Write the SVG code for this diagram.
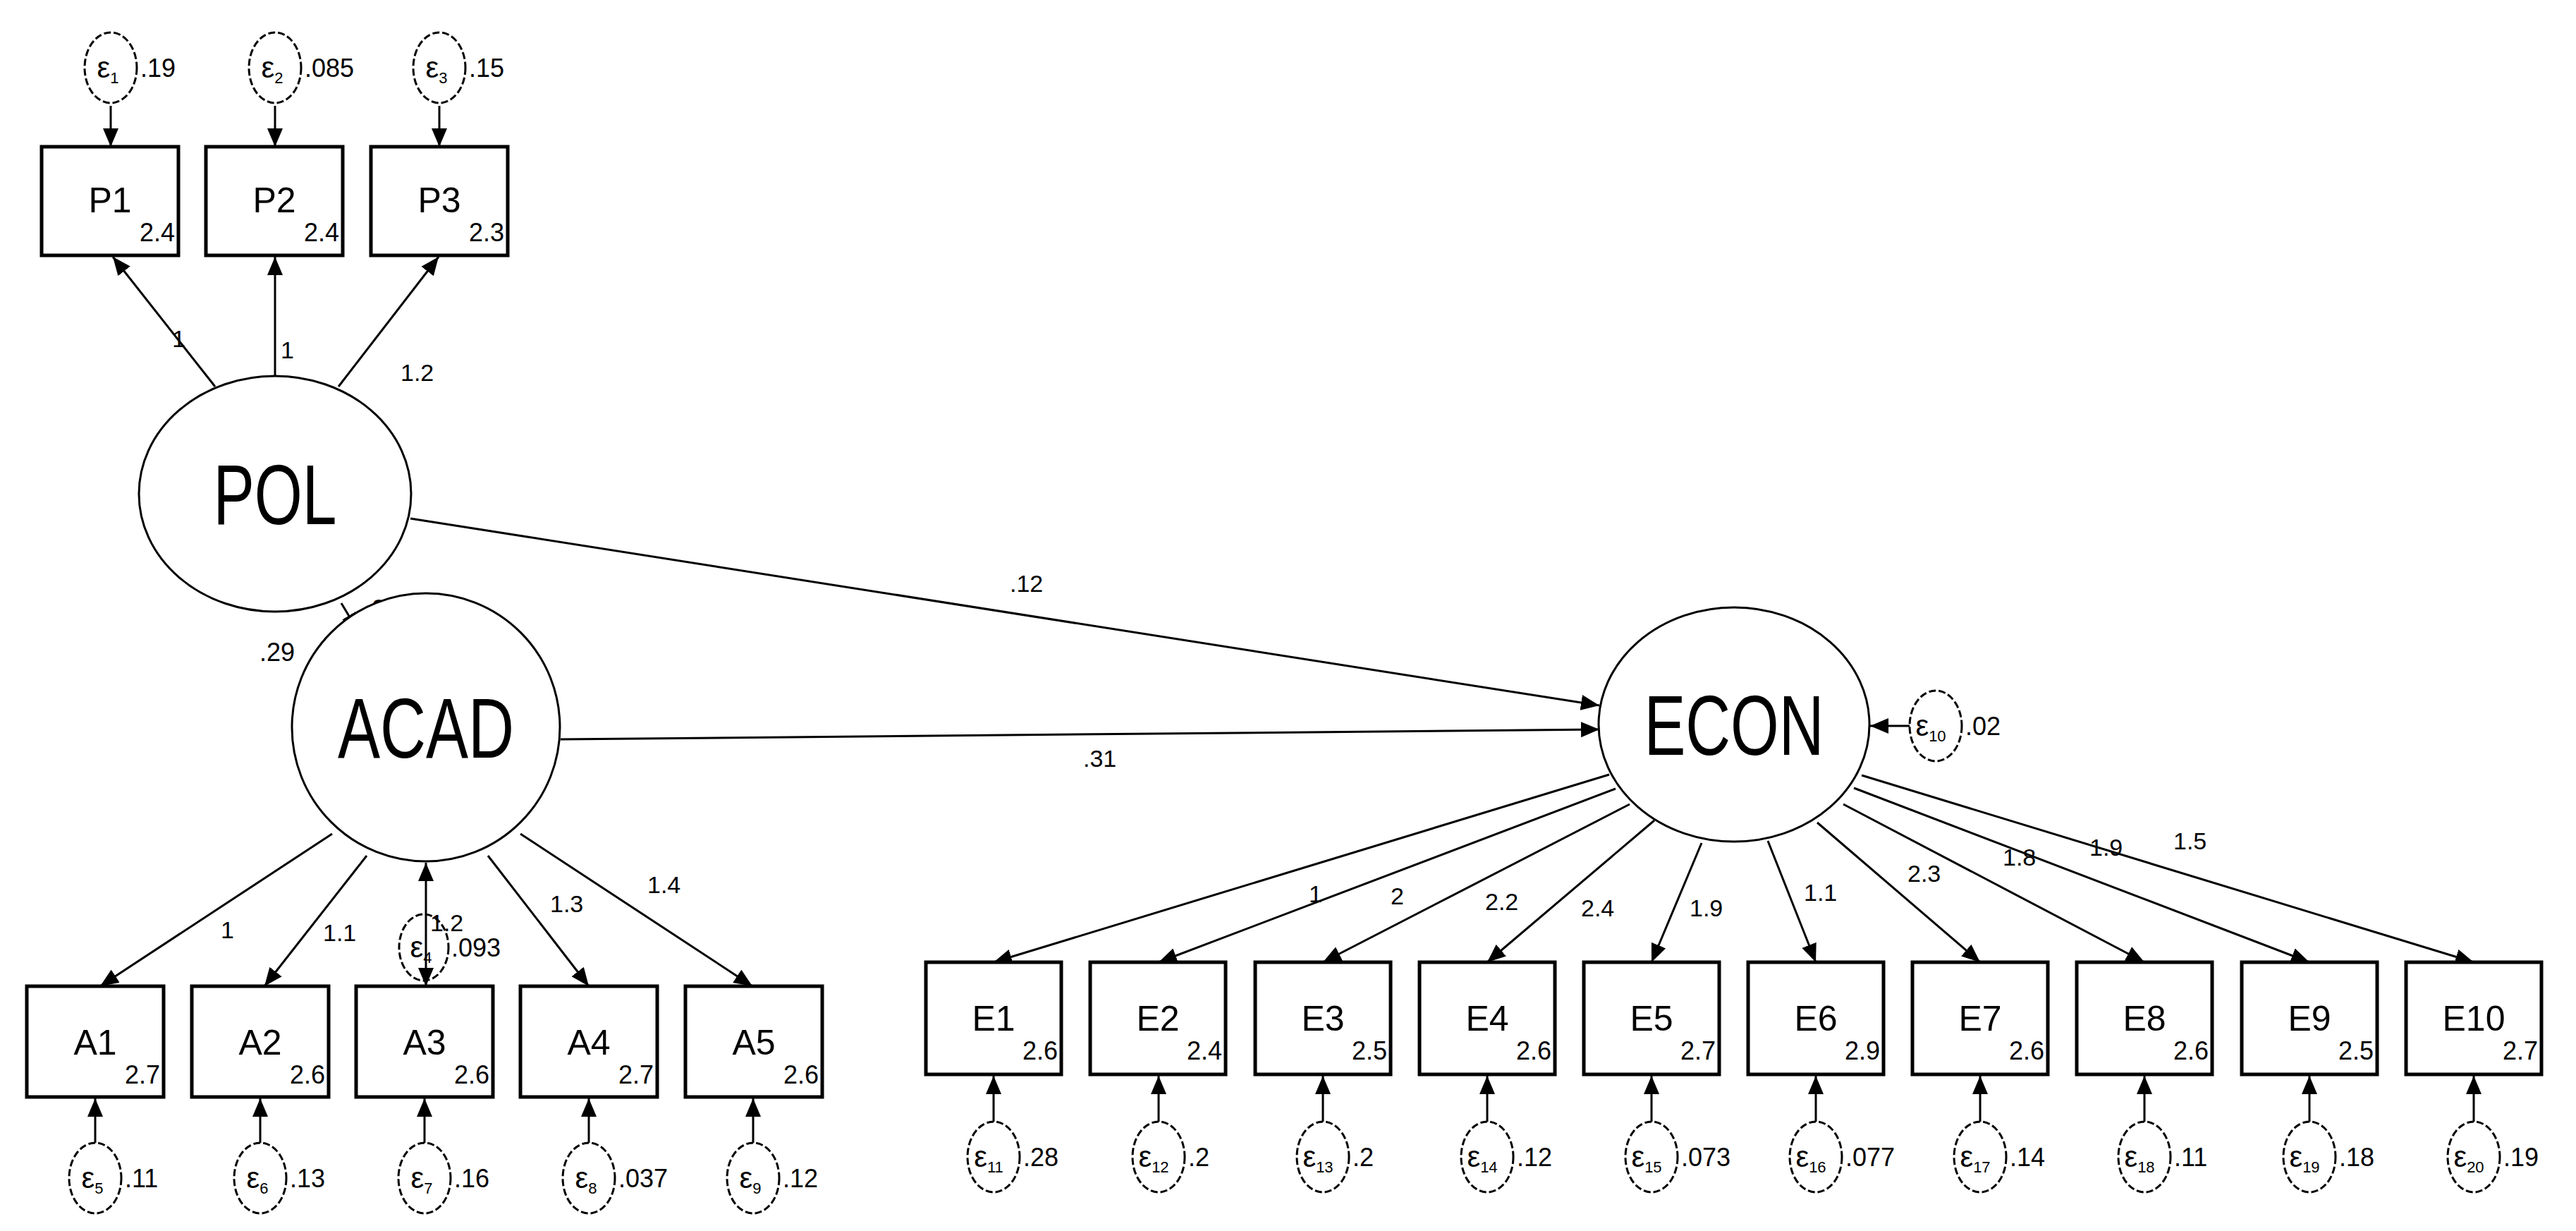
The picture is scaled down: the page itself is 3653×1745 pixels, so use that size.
<svg xmlns="http://www.w3.org/2000/svg" width="3653" height="1745" viewBox="0 0 3653 1745">
<style>
text{font-family:"Liberation Sans",Arial,sans-serif;fill:#000}
.box{fill:#fff;stroke:#000;stroke-width:5}
.lat{fill:#fff;stroke:#000;stroke-width:3}
.err{fill:#fff;stroke:#000;stroke-width:3;stroke-dasharray:10 4}
.big{font-size:120px;text-anchor:middle}
.nm{font-size:50px;text-anchor:middle}
.val{font-size:36px;text-anchor:end}
.el{font-size:34px}
.eps{font-size:42px;text-anchor:middle}
.sub{font-size:22px}
.ev{font-size:36px}
.c line,.c path{stroke:#000;stroke-width:3;fill:none;marker-end:url(#ah)}
</style>
<defs>
<marker id="ah" markerUnits="userSpaceOnUse" markerWidth="26" markerHeight="22" refX="26" refY="11" orient="auto"><path d="M0,0 L26,11 L0,22 Z" fill="#000"/></marker>
<marker id="as" markerUnits="userSpaceOnUse" markerWidth="26" markerHeight="22" refX="0" refY="11" orient="auto"><path d="M26,0 L0,11 L26,22 Z" fill="#000"/></marker>
</defs>
<rect width="3653" height="1745" fill="#fff"/>

<g id="connectors" class="c">
<line x1="157" y1="150" x2="157" y2="208"/>
<line x1="390" y1="150" x2="390" y2="208"/>
<line x1="623" y1="150" x2="623" y2="208"/>
<line x1="305" y1="548" x2="160" y2="364"/>
<line x1="390" y1="533" x2="390" y2="364"/>
<line x1="480" y1="548" x2="622" y2="364"/>
<line x1="484" y1="855" x2="508" y2="895"/>
<line x1="582" y1="735" x2="2268" y2="1000"/>
<line x1="795" y1="1048" x2="2268" y2="1034"/>
<line x1="471" y1="1182" x2="142" y2="1398"/>
<line x1="520" y1="1213" x2="375" y2="1398"/>
<line x1="604" y1="1223" x2="604" y2="1398" style="marker-start:url(#as)"/>
<line x1="692" y1="1213" x2="835" y2="1398"/>
<line x1="738" y1="1182" x2="1067" y2="1398"/>
<line x1="135" y1="1620" x2="135" y2="1557"/>
<line x1="369" y1="1620" x2="369" y2="1557"/>
<line x1="602" y1="1620" x2="602" y2="1557"/>
<line x1="835" y1="1620" x2="835" y2="1557"/>
<line x1="1068" y1="1620" x2="1068" y2="1557"/>
<line x1="2708" y1="1029" x2="2652" y2="1029"/>
<line x1="2282" y1="1098" x2="1409" y2="1364"/>
<line x1="2291" y1="1118" x2="1643" y2="1364"/>
<line x1="2311" y1="1140" x2="1876" y2="1364"/>
<line x1="2346" y1="1163" x2="2109" y2="1364"/>
<line x1="2413" y1="1195" x2="2342" y2="1364"/>
<line x1="2507" y1="1192" x2="2575" y2="1364"/>
<line x1="2577" y1="1166" x2="2808" y2="1364"/>
<line x1="2614" y1="1140" x2="3041" y2="1364"/>
<line x1="2629" y1="1117" x2="3275" y2="1364"/>
<line x1="2640" y1="1099" x2="3508" y2="1364"/>
<line x1="1409" y1="1590" x2="1409" y2="1525"/>
<line x1="1643" y1="1590" x2="1643" y2="1525"/>
<line x1="1876" y1="1590" x2="1876" y2="1525"/>
<line x1="2109" y1="1590" x2="2109" y2="1525"/>
<line x1="2342" y1="1590" x2="2342" y2="1525"/>
<line x1="2575" y1="1590" x2="2575" y2="1525"/>
<line x1="2808" y1="1590" x2="2808" y2="1525"/>
<line x1="3041" y1="1590" x2="3041" y2="1525"/>
<line x1="3275" y1="1590" x2="3275" y2="1525"/>
<line x1="3508" y1="1590" x2="3508" y2="1525"/>
</g>
<g id="edge-labels" class="el">
<text x="244" y="492">1</text>
<text x="398" y="508">1</text>
<text x="568" y="540">1.2</text>
<text x="518" y="873">.27</text>
<text x="1432" y="839">.12</text>
<text x="1536" y="1087">.31</text>
<text x="313" y="1330">1</text>
<text x="458" y="1334">1.1</text>
<text x="610" y="1320">1.2</text>
<text x="780" y="1293">1.3</text>
<text x="918" y="1266">1.4</text>
<text x="1856" y="1279">1</text>
<text x="1972" y="1282">2</text>
<text x="2106" y="1290">2.2</text>
<text x="2242" y="1299">2.4</text>
<text x="2396" y="1299">1.9</text>
<text x="2558" y="1277">1.1</text>
<text x="2705" y="1250">2.3</text>
<text x="2840" y="1227">1.8</text>
<text x="2963" y="1213">1.9</text>
<text x="3082" y="1204">1.5</text>
</g>

<g id="POL"><ellipse class="lat" cx="390" cy="700" rx="193" ry="167"/><text class="big" x="390" y="743" textLength="175" lengthAdjust="spacingAndGlyphs">POL</text><text class="ev" x="368" y="937">.29</text></g>
<g id="ACAD"><ellipse class="lat" cx="604" cy="1031" rx="190" ry="190"/><text class="big" x="604" y="1074" textLength="250" lengthAdjust="spacingAndGlyphs">ACAD</text></g>
<g id="ECON"><ellipse class="lat" cx="2459" cy="1027" rx="192" ry="166"/><text class="big" x="2459" y="1070" textLength="255" lengthAdjust="spacingAndGlyphs">ECON</text></g>

<g id="P1"><rect class="box" x="59" y="208" width="194" height="154"/><text class="nm" x="156" y="301">P1</text><text class="val" x="248" y="342">2.4</text></g>
<g id="P2"><rect class="box" x="292" y="208" width="194" height="154"/><text class="nm" x="389" y="301">P2</text><text class="val" x="481" y="342">2.4</text></g>
<g id="P3"><rect class="box" x="526" y="208" width="194" height="154"/><text class="nm" x="623" y="301">P3</text><text class="val" x="715" y="342">2.3</text></g>

<g id="e1"><ellipse class="err" cx="157" cy="96" rx="37" ry="50"/><text class="eps" x="153" y="110">ε<tspan class="sub" dy="8">1</tspan></text><text class="ev" x="199" y="109">.19</text></g>
<g id="e2"><ellipse class="err" cx="390" cy="96" rx="37" ry="50"/><text class="eps" x="386" y="110">ε<tspan class="sub" dy="8">2</tspan></text><text class="ev" x="432" y="109">.085</text></g>
<g id="e3"><ellipse class="err" cx="623" cy="96" rx="37" ry="50"/><text class="eps" x="619" y="110">ε<tspan class="sub" dy="8">3</tspan></text><text class="ev" x="665" y="109">.15</text></g>

<g id="A1"><rect class="box" x="38" y="1398" width="194" height="157"/><text class="nm" x="135" y="1495">A1</text><text class="val" x="227" y="1536">2.7</text></g>
<g id="A2"><rect class="box" x="272" y="1398" width="194" height="157"/><text class="nm" x="369" y="1495">A2</text><text class="val" x="461" y="1536">2.6</text></g>
<g id="A3"><rect class="box" x="505" y="1398" width="194" height="157"/><text class="nm" x="602" y="1495">A3</text><text class="val" x="694" y="1536">2.6</text></g>
<g id="A4"><rect class="box" x="738" y="1398" width="194" height="157"/><text class="nm" x="835" y="1495">A4</text><text class="val" x="927" y="1536">2.7</text></g>
<g id="A5"><rect class="box" x="972" y="1398" width="194" height="157"/><text class="nm" x="1069" y="1495">A5</text><text class="val" x="1161" y="1536">2.6</text></g>

<g id="e4"><ellipse cx="601" cy="1343" rx="35" ry="47" fill="none" stroke="#000" stroke-width="3" stroke-dasharray="10 4"/><text class="eps" x="597" y="1357">ε<tspan class="sub" dy="8">4</tspan></text><text class="ev" x="640" y="1356">.093</text></g>
<g id="e5"><ellipse class="err" cx="135" cy="1670" rx="37" ry="50"/><text class="eps" x="131" y="1684">ε<tspan class="sub" dy="8">5</tspan></text><text class="ev" x="177" y="1683">.11</text></g>
<g id="e6"><ellipse class="err" cx="369" cy="1670" rx="37" ry="50"/><text class="eps" x="365" y="1684">ε<tspan class="sub" dy="8">6</tspan></text><text class="ev" x="411" y="1683">.13</text></g>
<g id="e7"><ellipse class="err" cx="602" cy="1670" rx="37" ry="50"/><text class="eps" x="598" y="1684">ε<tspan class="sub" dy="8">7</tspan></text><text class="ev" x="644" y="1683">.16</text></g>
<g id="e8"><ellipse class="err" cx="835" cy="1670" rx="37" ry="50"/><text class="eps" x="831" y="1684">ε<tspan class="sub" dy="8">8</tspan></text><text class="ev" x="877" y="1683">.037</text></g>
<g id="e9"><ellipse class="err" cx="1068" cy="1670" rx="37" ry="50"/><text class="eps" x="1064" y="1684">ε<tspan class="sub" dy="8">9</tspan></text><text class="ev" x="1110" y="1683">.12</text></g>
<g id="e10"><ellipse class="err" cx="2745" cy="1029" rx="37" ry="50"/><text class="eps" x="2738" y="1043">ε<tspan class="sub" dy="8">10</tspan></text><text class="ev" x="2787" y="1042">.02</text></g>

<g id="E1"><rect class="box" x="1313" y="1364" width="192" height="159"/><text class="nm" x="1409" y="1461">E1</text><text class="val" x="1500" y="1502">2.6</text></g>
<g id="E2"><rect class="box" x="1546" y="1364" width="192" height="159"/><text class="nm" x="1642" y="1461">E2</text><text class="val" x="1733" y="1502">2.4</text></g>
<g id="E3"><rect class="box" x="1780" y="1364" width="192" height="159"/><text class="nm" x="1876" y="1461">E3</text><text class="val" x="1967" y="1502">2.5</text></g>
<g id="E4"><rect class="box" x="2013" y="1364" width="192" height="159"/><text class="nm" x="2109" y="1461">E4</text><text class="val" x="2200" y="1502">2.6</text></g>
<g id="E5"><rect class="box" x="2246" y="1364" width="192" height="159"/><text class="nm" x="2342" y="1461">E5</text><text class="val" x="2433" y="1502">2.7</text></g>
<g id="E6"><rect class="box" x="2479" y="1364" width="192" height="159"/><text class="nm" x="2575" y="1461">E6</text><text class="val" x="2666" y="1502">2.9</text></g>
<g id="E7"><rect class="box" x="2712" y="1364" width="192" height="159"/><text class="nm" x="2808" y="1461">E7</text><text class="val" x="2899" y="1502">2.6</text></g>
<g id="E8"><rect class="box" x="2945" y="1364" width="192" height="159"/><text class="nm" x="3041" y="1461">E8</text><text class="val" x="3132" y="1502">2.6</text></g>
<g id="E9"><rect class="box" x="3179" y="1364" width="192" height="159"/><text class="nm" x="3275" y="1461">E9</text><text class="val" x="3366" y="1502">2.5</text></g>
<g id="E10"><rect class="box" x="3412" y="1364" width="192" height="159"/><text class="nm" x="3508" y="1461">E10</text><text class="val" x="3599" y="1502">2.7</text></g>

<g id="e11"><ellipse class="err" cx="1409" cy="1640" rx="37" ry="50"/><text class="eps" x="1402" y="1654">ε<tspan class="sub" dy="8">11</tspan></text><text class="ev" x="1451" y="1653">.28</text></g>
<g id="e12"><ellipse class="err" cx="1643" cy="1640" rx="37" ry="50"/><text class="eps" x="1636" y="1654">ε<tspan class="sub" dy="8">12</tspan></text><text class="ev" x="1685" y="1653">.2</text></g>
<g id="e13"><ellipse class="err" cx="1876" cy="1640" rx="37" ry="50"/><text class="eps" x="1869" y="1654">ε<tspan class="sub" dy="8">13</tspan></text><text class="ev" x="1918" y="1653">.2</text></g>
<g id="e14"><ellipse class="err" cx="2109" cy="1640" rx="37" ry="50"/><text class="eps" x="2102" y="1654">ε<tspan class="sub" dy="8">14</tspan></text><text class="ev" x="2151" y="1653">.12</text></g>
<g id="e15"><ellipse class="err" cx="2342" cy="1640" rx="37" ry="50"/><text class="eps" x="2335" y="1654">ε<tspan class="sub" dy="8">15</tspan></text><text class="ev" x="2384" y="1653">.073</text></g>
<g id="e16"><ellipse class="err" cx="2575" cy="1640" rx="37" ry="50"/><text class="eps" x="2568" y="1654">ε<tspan class="sub" dy="8">16</tspan></text><text class="ev" x="2617" y="1653">.077</text></g>
<g id="e17"><ellipse class="err" cx="2808" cy="1640" rx="37" ry="50"/><text class="eps" x="2801" y="1654">ε<tspan class="sub" dy="8">17</tspan></text><text class="ev" x="2850" y="1653">.14</text></g>
<g id="e18"><ellipse class="err" cx="3041" cy="1640" rx="37" ry="50"/><text class="eps" x="3034" y="1654">ε<tspan class="sub" dy="8">18</tspan></text><text class="ev" x="3083" y="1653">.11</text></g>
<g id="e19"><ellipse class="err" cx="3275" cy="1640" rx="37" ry="50"/><text class="eps" x="3268" y="1654">ε<tspan class="sub" dy="8">19</tspan></text><text class="ev" x="3317" y="1653">.18</text></g>
<g id="e20"><ellipse class="err" cx="3508" cy="1640" rx="37" ry="50"/><text class="eps" x="3501" y="1654">ε<tspan class="sub" dy="8">20</tspan></text><text class="ev" x="3550" y="1653">.19</text></g>
</svg>
